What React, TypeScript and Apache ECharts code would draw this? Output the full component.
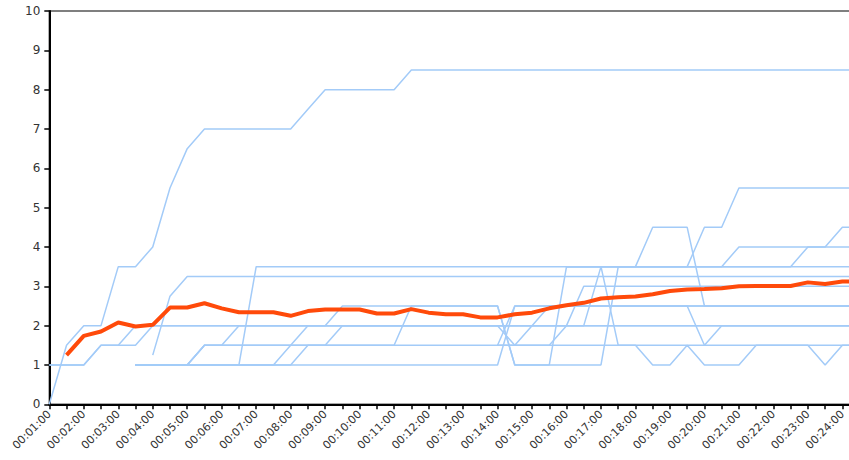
import React, { useEffect, useRef } from "react";
import * as echarts from "echarts";

const times = [
  "00:01:00","00:01:30","00:02:00","00:02:30","00:03:00","00:03:30","00:04:00","00:04:30",
  "00:05:00","00:05:30","00:06:00","00:06:30","00:07:00","00:07:30","00:08:00","00:08:30",
  "00:09:00","00:09:30","00:10:00","00:10:30","00:11:00","00:11:30","00:12:00","00:12:30",
  "00:13:00","00:13:30","00:14:00","00:14:30","00:15:00","00:15:30","00:16:00","00:16:30",
  "00:17:00","00:17:30","00:18:00","00:18:30","00:19:00","00:19:30","00:20:00","00:20:30",
  "00:21:00","00:21:30","00:22:00","00:22:30","00:23:00","00:23:30","00:24:00","00:24:30",
];

const _ = null;

const run1 = [0,1.5,2,2,3.5,3.5,4,5.5,6.5,7, 7,7,7,7,7,7.5,8,8,8,8, 8,8.5,8.5,8.5,8.5,8.5,8.5,8.5,8.5,8.5, 8.5,8.5,8.5,8.5,8.5,8.5,8.5,8.5,8.5,8.5, 8.5,8.5,8.5,8.5,8.5,8.5,8.5,8.5];
const run2 = [1,1,1,1.5,1.5,2,2,2,2,2, 2,2,2,2,2,2,2,2,2,2, 2,2,2,2,2,2,2,2,2,2, 2,2,2,2,2,2,2,2,2,2, 2,2,2,2,2,2,2,2];
const run3 = [1,1,1,1.5,1.5,1.5,2,2,2,2, 2,2,2,2,2,2,2,2,2,2, 2,2,2,2,2,2,2,2,2,2, 2,2,2,2,2,2,2,2,2,2, 2,2,2,2,2,2,2,2];
const run4 = [_,_,_,_,_,_,1.25,2.75,3.25,3.25, 3.25,3.25,3.25,3.25,3.25,3.25,3.25,3.25,3.25,3.25, 3.25,3.25,3.25,3.25,3.25,3.25,3.25,3.25,3.25,3.25, 3.25,3.25,3.25,3.25,3.25,3.25,3.25,3.25,3.25,3.25, 3.25,3.25,3.25,3.25,3.25,3.25,3.25,3.25];
const run5 = [_,_,_,_,_,1,1,1,1,1, 1,1,3.5,3.5,3.5,3.5,3.5,3.5,3.5,3.5, 3.5,3.5,3.5,3.5,3.5,3.5,3.5,3.5,3.5,3.5, 3.5,3.5,3.5,3.5,3.5,3.5,3.5,3.5,3.5,3.5, 3.5,3.5,3.5,3.5,3.5,3.5,3.5,3.5];
const run6 = [_,_,_,_,_,1,1,1,1,1.5, 1.5,2,2,2,2,2,2,2.5,2.5,2.5, 2.5,2.5,2.5,2.5,2.5,2.5,2.5,1,1,1, 3.5,3.5,3.5,3.5,3.5,3.5,3.5,3.5,4.5,4.5, 5.5,5.5,5.5,5.5,5.5,5.5,5.5,5.5];
const run7 = [_,_,_,_,_,1,1,1,1,1.5, 1.5,1.5,1.5,1.5,1.5,1.5,1.5,2,2,2, 2,2,2,2,2,2,2,1.5,1.5,1.5, 2,3,3,3,3,3,3,3,3,3, 3,3,3,3,3,3,3,3];
const run8 = [_,_,_,_,_,1,1,1,1,1, 1,1,1,1,1.5,2,2,2,2,2, 2,2,2,2,2,2,2,2,2,2, 2,2,3.5,1.5,1.5,1,1,1.5,1,1, 1,1.5,1.5,1.5,1.5,1,1.5,1.5];
const run9 = [_,_,_,_,_,1,1,1,1,1, 1,1,1,1,1,1.5,1.5,1.5,1.5,1.5, 1.5,2.5,2.5,2.5,2.5,2.5,2.5,1,1,1, 1,1,1,3.5,3.5,4.5,4.5,4.5,2.5,2.5, 2.5,2.5,2.5,2.5,2.5,2.5,2.5,2.5];
const run10 = [_,_,_,_,_,1,1,1,1,1.5, 1.5,1.5,1.5,1.5,1.5,1.5,1.5,1.5,1.5,1.5, 1.5,1.5,1.5,1.5,1.5,1.5,1.5,2.5,2.5,2.5, 2.5,2.5,2.5,2.5,2.5,2.5,2.5,2.5,1.5,2, 2,2,2,2,2,2,2,2];
const run11 = [_,_,_,_,_,1,1,1,1,1, 1,1,1,1,1,1,1,1,1,1, 1,1,1,1,1,1,1,2.5,2.5,2.5, 2.5,2.5,2.5,2.5,2.5,2.5,2.5,2.5,2.5,2.5, 2.5,2.5,2.5,2.5,2.5,2.5,2.5,2.5];
const run12 = [_,_,_,_,_,_,_,_,_,_, _,_,_,_,_,_,_,_,_,_, _,_,_,_,_,_,1.5,1.5,2,2.5, 2.5,2.5,2.5,2.5,2.5,2.5,2.5,2.5,2.5,2.5, 2.5,2.5,2.5,2.5,2.5,2.5,2.5,2.5];
const run13 = [_,_,_,_,_,_,_,_,_,_, _,_,_,_,_,_,_,_,_,_, _,_,_,_,_,_,1.5,1.5,1.5,1.5, 1.5,1.5,1.5,1.5,1.5,1.5,1.5,1.5,1.5,1.5, 1.5,1.5,1.5,1.5,1.5,1.5,1.5,1.5];
const run14 = [_,_,_,_,_,_,_,_,_,_, _,_,_,_,_,_,_,_,_,_, _,_,_,_,_,_,_,_,_,_, 3.5,3.5,3.5,3.5,3.5,3.5,3.5,3.5,3.5,3.5, 4,4,4,4,4,4,4,4];
const run15 = [_,_,_,_,_,_,_,_,_,_, _,_,_,_,_,_,_,_,_,_, _,_,_,_,_,_,_,_,_,_, 3.5,3.5,3.5,3.5,3.5,3.5,3.5,3.5,3.5,3.5, 3.5,3.5,3.5,3.5,4,4,4.5,4.5];

const average = [_,1.25,1.74,1.85,2.08,1.98,2.02,2.46,2.46,2.57, 2.44,2.34,2.34,2.34,2.25,2.37,2.41,2.41,2.41,2.31, 2.31,2.42,2.33,2.29,2.29,2.21,2.21,2.29,2.33,2.44, 2.52,2.58,2.69,2.72,2.74,2.8,2.88,2.92,2.93,2.95, 3.0,3.01,3.01,3.01,3.1,3.06,3.12,3.12];

const runs = [run1, run2, run3, run4, run5, run6, run7, run8, run9, run10, run11, run12, run13, run14, run15];

const yTicks = [0, 10, 1];

export default function App() {
  const ref = useRef<HTMLDivElement>(null);
  useEffect(() => {
    const chart = echarts.init(ref.current!, null, { renderer: "svg" });
    const series: any[] = runs.map((r, k) => ({
      name: "run " + (k + 1),
      type: "line",
      data: r,
      showSymbol: false,
      symbol: "none",
      connectNulls: false,
      lineStyle: { color: "#a3cbf8", width: 1.5 },
      itemStyle: { color: "#a3cbf8" },
      z: 2,
    }));
    series.push({
      name: "average",
      type: "line",
      data: average,
      showSymbol: false,
      symbol: "none",
      lineStyle: { color: "#ff4a0a", width: 4 },
      itemStyle: { color: "#ff4a0a" },
      z: 5,
    });
    chart.setOption({
      animation: false,
      backgroundColor: "#fff",
      grid: {
        show: true,
        left: 49.3,
        top: 11,
        right: 10.4,
        bottom: 55.7,
        borderColor: "#555",
        borderWidth: 1.5,
        backgroundColor: "transparent",
      },
      xAxis: {
        type: "category",
        data: times,
        boundaryGap: false,
        axisLine: { show: true, lineStyle: { color: "#000", width: 2 } },
        axisTick: { show: true, interval: 0, length: 5, lineStyle: { color: "#000", width: 1.5 } },
        axisLabel: {
          interval: 1,
          rotate: 45,
          margin: 8,
          fontSize: 11,
          color: "#333",
          fontFamily: "DejaVu Sans",
        },
        splitLine: { show: false },
      },
      yAxis: {
        type: "value",
        min: yTicks[0],
        max: yTicks[1],
        interval: yTicks[2],
        axisLine: { show: true, lineStyle: { color: "#000", width: 2 } },
        axisTick: { show: true, length: 5, lineStyle: { color: "#000", width: 1.5 } },
        axisLabel: { margin: 9, fontSize: 12, color: "#333", fontFamily: "DejaVu Sans" },
        splitLine: { show: false },
      },
      series,
    });
    return () => chart.dispose();
  }, []);
  return (
    <div style={{ position: "fixed", left: 0, top: 0, width: 849, height: 460, overflow: "hidden", background: "#fff" }}>
      <div ref={ref} style={{ width: 870, height: 460 }} />
    </div>
  );
}
